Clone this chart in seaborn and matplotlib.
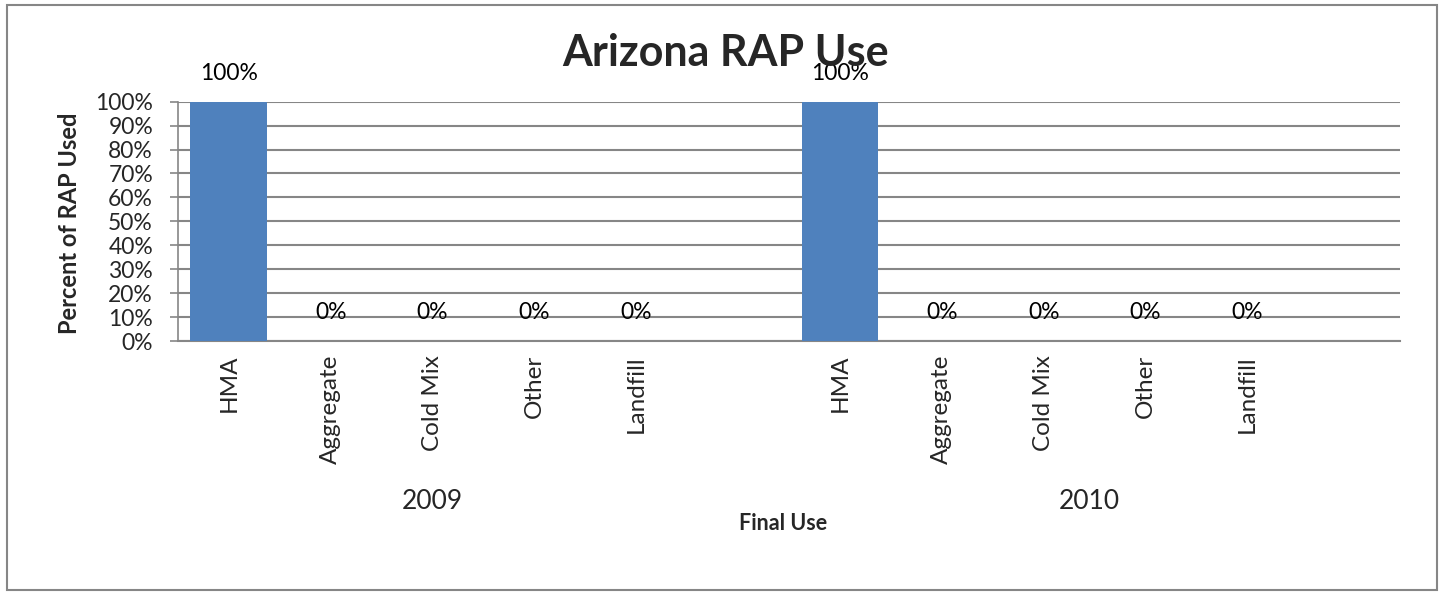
import pandas as pd
import numpy as np
import matplotlib.pyplot as plt
import seaborn as sns
from matplotlib.ticker import PercentFormatter
from matplotlib.patches import Rectangle

# data
years = ['2009', '2010']
uses = ['HMA', 'Aggregate', 'Cold Mix', 'Other', 'Landfill']
values_2009 = [100, 0, 0, 0, 0]
values_2010 = [100, 0, 0, 0, 0]

rows = []
for yr, vals in zip(years, [values_2009, values_2010]):
    for u, v in zip(uses, vals):
        rows.append({'slot': yr + ' ' + u, 'use': u, 'year': yr, 'pct': v})
df = pd.DataFrame(rows)

# each year gets a trailing empty slot like the original chart
order = []
for yr in years:
    order += [yr + ' ' + u for u in uses] + [yr + ' gap']

sns.set_theme(style='white')
plt.rcParams['font.family'] = ['Lato', 'DejaVu Sans']

fig = plt.figure(figsize=(14.45, 5.94), dpi=100)
ax = fig.add_axes([0.1232, 0.4259, 0.8457, 0.4029])

sns.barplot(data=df, x='slot', y='pct', order=order, color='#4F81BD',
            saturation=1, width=0.755, linewidth=0, ax=ax, zorder=3)

for c in ax.containers:
    ax.bar_label(c, fmt='%.0f%%', padding=13, fontsize=16.5, color='black')

ax.set_ylim(0, 100)
ax.set_yticks(np.arange(0, 101, 10))
ax.yaxis.set_major_formatter(PercentFormatter(decimals=0))
ax.set_xlim(-0.5, len(order) - 0.5)
ax.set_xticks(range(len(order)))
ax.set_xticklabels([u for yr in years for u in uses + ['']], rotation=90, fontsize=17.5)
ax.tick_params(axis='x', length=0, pad=10)
ax.tick_params(axis='y', length=6, width=1.2, color='#868686', direction='out',
               left=True, pad=12, labelsize=16.5)
ax.grid(axis='y', color='#868686', lw=1.5, zorder=0)

for s in ['top', 'right']:
    ax.spines[s].set_visible(False)
ax.spines['left'].set_color('#868686')
ax.spines['bottom'].set_color('#868686')
ax.spines['left'].set_linewidth(1.2)
ax.spines['bottom'].set_linewidth(1.5)

ax.set_xlabel('')
ax.set_ylabel('Percent of RAP Used', fontsize=17, fontweight='bold')
ax.yaxis.set_label_coords(-0.079, 0.49)

# year group labels under the category labels
for i, yr in enumerate(years):
    idx = [order.index(yr + ' ' + u) for u in uses]
    xc = np.mean(idx) if i == 0 else np.mean(idx + [order.index(yr + ' gap')]) - 0.05
    ax.text(xc, -0.67, yr, transform=ax.get_xaxis_transform(),
            ha='center', va='center', fontsize=19)

fig.text(783 / 1445, 1 - 524 / 594, 'Final Use', ha='center', va='center',
         fontsize=15.5, fontweight='bold')
fig.text(726 / 1445, 1 - 66 / 594, 'Arizona RAP Use', ha='center', va='baseline',
         fontsize=31, fontweight='bold')

fig.patches.append(Rectangle((7 / 1445, 4 / 594), 1430 / 1445, 585 / 594,
                             transform=fig.transFigure, fill=False,
                             edgecolor='#868686', lw=1.5))

fig.savefig('out.png', dpi=100)
